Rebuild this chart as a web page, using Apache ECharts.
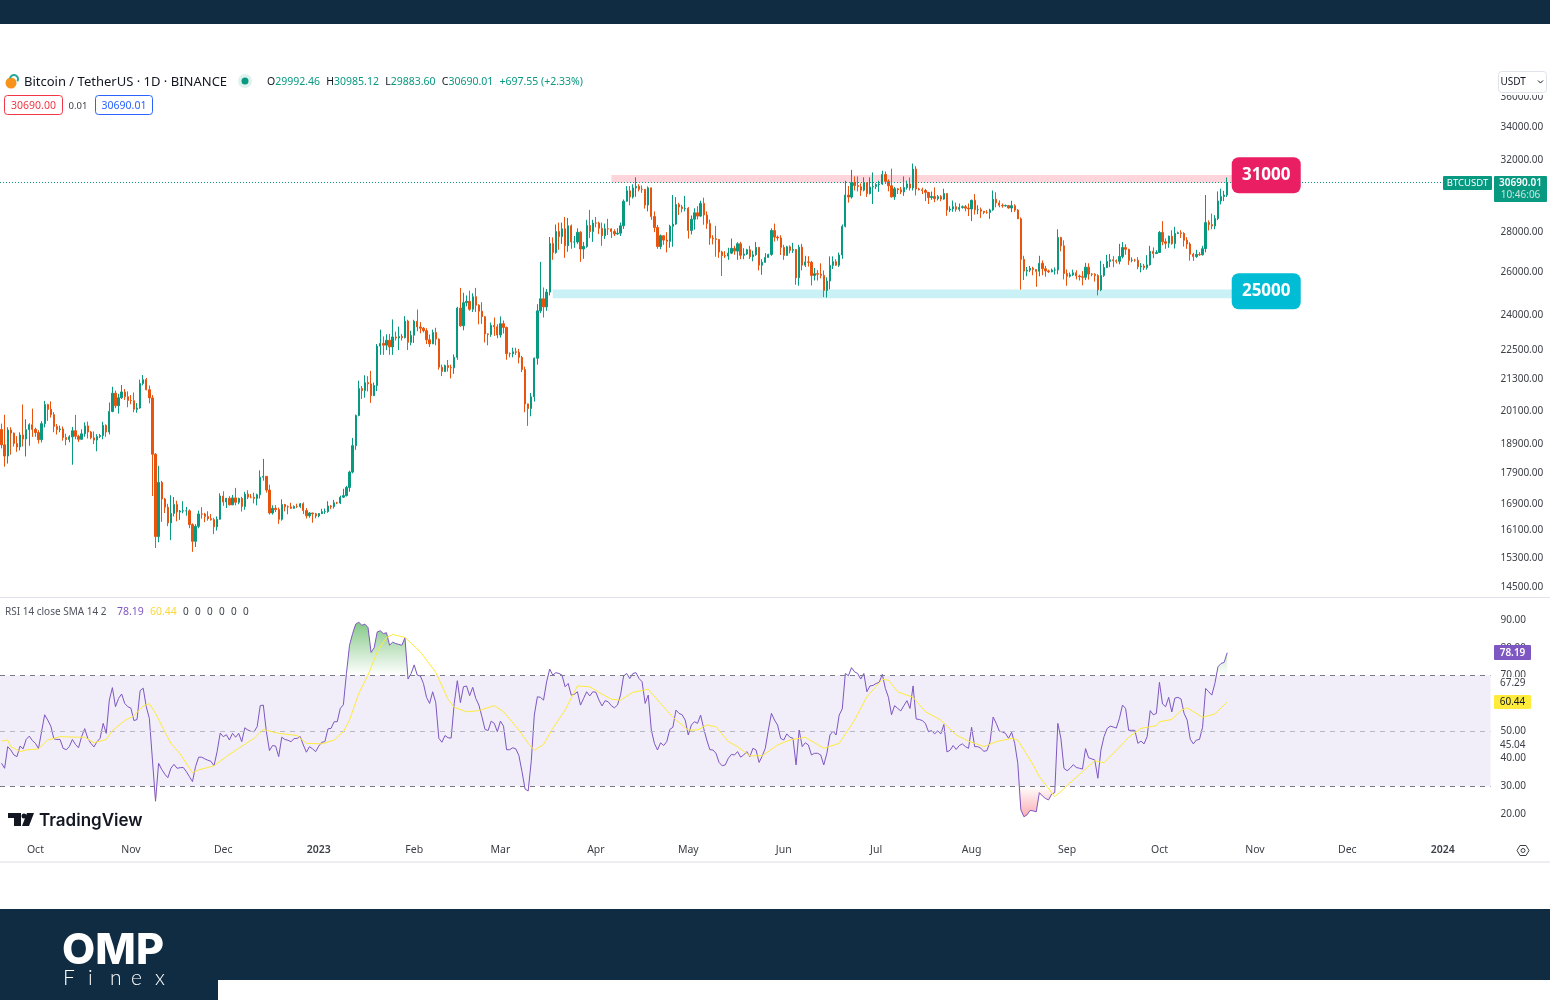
<!DOCTYPE html>
<html>
<head>
<meta charset="utf-8">
<title>BTCUSDT</title>
<style>
html, body { margin: 0; padding: 0; background: #fff; }
#main { width: 1550px; height: 1000px; }
</style>
<script src="https://cdn.jsdelivr.net/npm/echarts@6/dist/echarts.min.js"></script>
</head>
<body>
<div id="main"></div>
<script>
// daily candles, 20 Sep 2022 to 23 Oct 2023
var opens = [
19418,18873,18486,19401,19289,18920,18802,19222,19079,19412,19591,
19422,19310,19056,19630,20337,20158,19960,19530,19417,19439,19131,19060,19155,19375,19176,19068,19262,19549,19327,19123,19041,19164,19204,19570,19330,20080,20771,20295,20595,20818,20635,
20495,20485,20159,20209,21148,21299,20905,20591,18547,15922,17601,17070,16812,16330,16619,16900,16662,16692,16700,16700,16280,15781,16226,16603,16598,16522,16458,16428,16212,16442,
17163,16977,17092,16885,17105,16966,17089,16836,17224,17128,17127,17085,17206,17775,17803,17356,16632,16776,16738,16438,16895,16824,16821,16778,16836,16832,16919,16707,16547,16633,16607,
16542,16616,16672,16675,16850,16831,16950,16943,17127,17178,17440,17943,18846,19930,20954,20871,21185,21133,20677,21071,22667,22783,22707,22917,22633,23056,23009,23074,23022,23743,22826,
23125,23733,23488,23431,23326,22933,22762,23249,22963,21797,21625,21862,21783,21773,22199,24324,23538,24569,24631,24271,24844,24452,24182,23940,23185,23157,23554,23492,
23141,23629,23465,22354,22346,22430,22409,22197,21705,20363,20187,20632,22163,24197,24746,24375,25055,27423,26965,28038,27767,28175,27307,28333,27493,27494,27994,27139,27268,28348,28033,
28478,28474,28199,27812,28175,28170,28033,27906,27947,28333,29653,30235,29884,30395,30485,30318,30315,29445,30397,28823,28245,27263,27817,27591,27525,28307,28422,29473,29340,29248,
29268,28091,28680,29026,28847,29534,28904,28454,27694,27658,27621,26988,26807,26788,26931,27172,27033,27405,26821,26890,27102,26747,26851,27225,26334,26476,26719,26868,28085,27745,27702,
27219,26819,27249,27069,27115,25728,27230,26339,26498,26477,25841,25925,25902,25842,25131,25575,26327,26510,26336,26840,28307,29993,29885,30688,30527,30462,30267,30692,30077,30445,
30472,30585,30617,31156,30767,30514,29895,30348,30292,30171,30414,30620,30391,31476,30334,30297,30249,30145,29856,29913,29792,29908,29771,30083,29176,29228,29354,29213,29314,29352,29275,
29230,29705,29186,29193,29113,29042,29041,29180,29765,29561,29429,29397,29415,29283,29409,29170,28701,26622,26049,26096,26189,26124,26040,26431,26163,26059,26017,26098,26106,27727,27297,
25931,25800,25869,25969,25812,25779,25753,26240,25905,25895,25832,25162,25840,26222,26522,26600,26559,26527,26762,27210,27125,26568,26580,26579,26256,26298,26217,26352,27021,26911,
26962,27983,27505,27429,27794,27410,27931,27970,27935,27584,27391,26875,26759,26862,26852,27154,28500,28395,28320,28713,29669,29910,29992.46
];
var closes = [
18873,18486,19401,19289,18920,18802,19222,19079,19412,19591,19422,
19310,19056,19630,20337,20158,19960,19530,19417,19439,19131,19060,19155,19375,19176,19068,19262,19549,19327,19123,19041,19164,19204,19570,19330,20080,20771,20295,20595,20818,20635,20495,
20485,20159,20209,21148,21299,20905,20591,18547,15922,17601,17070,16812,16330,16619,16900,16662,16692,16700,16700,16280,15781,16226,16603,16598,16522,16458,16428,16212,16442,17163,
16977,17092,16885,17105,16966,17089,16836,17224,17128,17127,17085,17206,17775,17803,17356,16632,16776,16738,16438,16895,16824,16821,16778,16836,16832,16919,16707,16547,16633,16607,16542,
16616,16672,16675,16850,16831,16950,16943,17127,17178,17440,17943,18846,19930,20954,20871,21185,21133,20677,21071,22667,22783,22707,22917,22633,23056,23009,23074,23022,23743,22826,23125,
23733,23488,23431,23326,22933,22762,23249,22963,21797,21625,21862,21783,21773,22199,24324,23538,24569,24631,24271,24844,24452,24182,23940,23185,23157,23554,23492,23141,
23629,23465,22354,22346,22430,22409,22197,21705,20363,20187,20632,22163,24197,24746,24375,25055,27423,26965,28038,27767,28175,27307,28333,27493,27494,27994,27139,27268,28348,28033,28478,
28474,28199,27812,28175,28170,28033,27906,27947,28333,29653,30235,29884,30395,30485,30318,30315,29445,30397,28823,28245,27263,27817,27591,27525,28307,28422,29473,29340,29248,29268,
28091,28680,29026,28847,29534,28904,28454,27694,27658,27621,26988,26807,26788,26931,27172,27033,27405,26821,26890,27102,26747,26851,27225,26334,26476,26719,26868,28085,27745,27702,27219,
26819,27249,27069,27115,25728,27230,26339,26498,26477,25841,25925,25902,25842,25131,25575,26327,26510,26336,26840,28307,29993,29885,30688,30527,30462,30267,30692,30077,30445,30472,
30585,30617,31156,30767,30514,29895,30348,30292,30171,30414,30620,30391,31476,30334,30297,30249,30145,29856,29913,29792,29908,29771,30083,29176,29228,29354,29213,29314,29352,29275,29230,
29705,29186,29193,29113,29042,29041,29180,29765,29561,29429,29397,29415,29283,29409,29170,28701,26622,26049,26096,26189,26124,26040,26431,26163,26059,26017,26098,26106,27727,27297,25931,
25800,25869,25969,25812,25779,25753,26240,25905,25895,25832,25162,25840,26222,26522,26600,26559,26527,26762,27210,27125,26568,26580,26579,26256,26298,26217,26352,27021,26911,26962,
27983,27505,27429,27794,27410,27931,27970,27935,27584,27391,26875,26759,26862,26852,27154,28500,28395,28320,28713,29669,29910,29992.46,30690.01
];
var highs = [
19630,19956,19500,19500,19310,19180,19315,20340,19790,19645,20185,
19484,19395,19719,20475,20365,20456,20055,19616,19558,19525,19268,19214,19513,19951,19227,19424,19676,19706,19360,19347,19250,19257,19700,19601,20415,21020,20872,20750,21085,20931,20840,
20700,20800,20393,21302,21480,21365,21069,20700,18590,18150,17655,17099,16919,17190,17132,17015,16725,16999,16820,16746,16315,16291,16705,16812,16638,16687,16600,16482,16528,17249,
17317,17105,17159,17199,17425,17108,17138,17299,17350,17227,17270,17241,18000,18387,17526,17530,16870,16875,16800,17061,16915,16868,16950,16868,16920,16943,16965,16785,16660,16640,16636,
16630,16760,16772,17000,16880,17041,16980,17176,17398,17490,17990,19117,19964,21258,21050,21473,21438,21650,21186,22755,23371,23078,23165,23180,23816,23282,23500,23183,23960,23800,23320,
23800,24255,23700,23480,23430,23160,23370,23450,22990,21900,21900,22090,21900,22320,24380,25250,25020,24900,25120,25000,25250,24500,24590,23880,23210,23680,23900,23600,
23950,23770,23500,22400,22600,22600,22550,22260,21820,20370,20780,22190,24500,26500,25270,25200,27750,27730,28400,28500,28500,28800,28750,28400,27800,28200,28050,27500,28650,29180,28650,
28800,28550,28500,28450,28700,28200,28150,28200,28500,29750,30500,30500,30600,31000,30600,30530,30300,30480,30400,29100,28380,27880,27820,28000,28390,30000,29880,29570,29450,29950,
29330,28880,29270,29380,29680,29850,29100,28660,27840,28330,27650,27050,27030,27200,27670,27300,27480,27500,27180,27150,27300,27050,27500,27210,26630,26930,26900,28200,28450,27830,27840,
27350,27300,27320,27450,27130,27350,27400,26800,26780,26550,26200,26100,26430,26080,25750,26770,26770,26630,26960,28400,30800,30500,31430,31050,31050,30650,31000,30700,31000,31280,
30660,30800,31380,31330,30880,31500,30450,30390,30450,31050,30810,30990,31800,31650,30400,30410,30340,30050,30190,30420,30000,29990,30350,30100,29380,29690,29580,29530,29420,29450,29530,
29740,30050,29430,29310,29100,29170,29240,30250,30150,29700,29530,29470,29450,29680,29490,29220,28780,26800,26250,26300,26260,26130,26800,26570,26300,26120,26170,26230,28150,27760,27580,
26130,25980,26120,26090,25880,26050,26450,26430,25950,25950,25900,26550,26400,26850,26890,26780,26620,27400,27490,27380,27150,26720,26650,26730,26440,26400,26830,27300,27220,27080,
28060,28580,27680,27820,28100,28280,28030,28100,28000,27740,27480,26950,27100,26980,27300,30000,28620,28980,28900,30200,30350,30230,30985.12
];
var lows = [
18750,18125,18230,18531,18814,18630,18680,18816,18471,18843,19155,
19159,18920,18959,19490,19730,19853,19320,19237,19320,19020,18860,18965,18190,19070,18975,19063,19159,19096,19070,18900,18650,19112,19070,19157,19241,20050,20200,20000,20550,20515,20237,
20348,20050,20031,20180,21080,20886,20384,17166,15588,15754,16361,16631,16229,15815,16527,16378,16420,16625,16549,16170,15476,15616,16168,16460,16353,16398,16400,15995,16100,16430,
16855,16787,16868,16882,16868,16905,16678,16733,17064,17092,16930,16871,17089,17660,17275,16585,16584,16660,16300,16398,16683,16592,16760,16790,16789,16789,16600,16465,16488,16335,16470,
16500,16600,16605,16640,16751,16770,16908,16910,17100,17150,17300,17900,18700,19900,20550,20600,20840,20400,20660,20850,22300,22300,22500,22300,22300,22900,22500,22900,22990,22500,22700,
22800,23300,23210,23250,22750,22630,22750,22700,21700,21440,21600,21620,21350,21530,22100,23490,23340,24400,24200,24150,24150,23600,23620,22820,22700,23060,23100,23000,
23030,23200,22100,22200,22200,22300,21950,21600,20050,19550,19900,20450,21900,24100,23900,24200,24900,26600,26900,27100,27400,26700,27000,27150,27200,27400,26500,26650,27200,27700,27500,
28250,27900,27300,27650,27850,27700,27800,27870,27800,28170,29630,29430,29800,29900,30200,30120,29250,29100,28650,28000,27150,27130,27350,26970,27200,27250,28380,28900,29050,29100,
27670,27880,28130,28670,28810,28390,28170,27350,27370,26755,26700,25810,26690,26600,26880,26850,26600,26630,26630,26840,26640,26530,26800,26080,25870,26530,26780,26800,27520,27560,26840,
26600,26800,26920,26940,25400,25350,26080,26250,26270,25370,25600,25600,25700,24820,24800,25180,26150,26300,26250,26650,28250,29580,29800,30250,30200,29950,30200,29890,30030,29500,
30330,30170,30570,30620,30200,29850,29730,30050,30050,29950,30300,30250,30250,29970,30250,30050,29660,29500,29730,29600,29700,29650,29730,28860,29060,29080,29080,29100,29250,29100,28850,
28580,28930,28950,28750,28950,28970,28700,29130,29320,29320,29300,29360,29250,29060,29070,28700,25170,25620,25800,26000,25850,25300,25800,25850,25780,25960,25990,25880,25900,27020,25650,
25350,25740,25810,25650,25600,25370,25620,25640,25800,25550,24900,25100,25770,26200,26240,26240,26420,26380,26670,26850,26350,26480,26500,26140,25990,26100,26120,26320,26680,26900,
26950,27330,27150,27200,27360,27160,27900,27700,27260,27150,26560,26550,26700,26800,26810,26970,28090,28150,28150,28630,29480,29660,29883.6
];
var rsi = [
38.3,36.5,44.3,43.1,41.3,40.7,44.5,43.5,46.9,48.1,46.5,45.5,43.6,49.7,55.8,53.9,51.7,47.1,46.9,46.9,43.7,43.2,44.3,46.9,45.1,43.9,47.9,50.8,47.3,45.5,44.2,46.1,47.3,52.7,49.1,61.1,65.6,58.7,61.7,63.3,59.9,58.7,58.2,53.7,54.1,64.5,65.4,58.7,54.5,39.5,24.6,
38.3,36.1,34.4,33.1,36.5,37.9,36.5,36.7,36.8,35.3,33.5,31.7,37.1,40.5,40.5,39.9,39.4,39,37.4,42.5,49.2,47.9,48.6,46.7,49.1,47.7,49.1,46.1,51.1,50.3,49.8,49.7,51.5,59.1,59.3,49.7,42.9,44.7,44.5,40.7,47.7,46.9,46.6,46.1,47.2,47.3,47.9,44.9,42.3,
44.3,43.5,42.5,44.5,45.9,46.1,50.7,50.9,53.3,53.3,58.1,59.4,70.7,80.9,85.1,88.5,89.2,88.1,88.5,87.3,78.3,80,85.7,86.1,85.1,85.4,80.9,82,81.5,81.2,80.9,83.6,68.7,70.7,73.8,70.1,
69.8,67.1,62.1,59.9,64.1,60.2,47.3,45.9,48.3,47.5,47.4,59.9,68.1,60.2,65.9,66.2,62.7,65.7,61.7,59.3,55.1,50.5,50.1,53.5,52.7,49.7,53.5,51.7,43.2,43.2,43.9,43.5,41.1,35.3,29,28.3,38.9,55.7,62.3,62.1,61.1,67.7,72.3,70.1,71,70.7,70.1,65.9,67.1,62.9,63.2,64.1,59.3,61.7,64.1,62.6,64.1,63.9,61.1,59,60.9,60.5,59.1,58.3,59.3,62.9,
69.8,70.7,68.9,70.7,71,68.9,67.7,59.9,62.9,50.3,45.5,43.1,45.7,44.7,46.1,50.5,51.3,57.5,56.3,55.8,53.9,48.5,52.1,53.3,52.7,55.7,50.9,46.7,43.2,43.1,41.9,38.6,37.4,37.7,40.1,41.5,41.3,42.5,40.5,41.3,42.5,40.7,43.7,43.1,38.6,40.9,43.7,50.3,56.3,53.9,52.1,47.3,46.7,48.9,47.7,47.3,37.7,50.3,44.3,45.7,44.9,41.3,41.9,41.9,41.3,37.7,41.9,48.5,49.9,48.5,55.7,
57.9,70.7,69.9,72.8,71.3,70.7,68.7,70.7,64.1,66.2,66.4,67.1,67.5,70.4,65.3,62.1,55.8,59.1,58.1,57.2,59.1,60.9,58.1,66.2,54.3,54.1,53.7,52.7,49.7,50.1,48.9,50,48.9,52.3,42.4,43,44.7,43.3,44.7,45.3,44.3,43.7,51.3,44.3,44.3,43.7,42.6,42.9,46.1,55,52.7,49.9,49.6,49.1,47.3,49.5,45.5,38.3,21.5,19,19.7,21.3,21.1,20.8,27.7,26.5,25.6,25.1,27.2,27.7,52.7,47.3,36.5,35.6,36.5,37.8,36.8,36.5,36.2,43.6,40.3,39.9,39.5,32.9,43.1,47.9,50.8,51.7,51.4,51,54.5,59.3,58.1,50.2,50.2,50.2,45.5,46.3,45.3,47.9,57.3,55.8,56.3,67.5,59.7,58.7,62.1,56.8,61.8,62.1,61.5,56.3,53.9,47,45.3,46.7,46.9,51.3,65.3,64.1,62.9,67.1,73.1,74.3,74.7,78.19
];
// yellow average, read where the curve bends: day index and value
var rsiMaDays = [0,2,3,6,8,12,15,19,25,27,30,34,36,40,43,46,48,50,53,55,58,62,64,69,73,77,82,85,90,96,99,104,108,111,113,116,119,122,125,127,131,136,141,145,147,151,155,160,163,168,171,173,176,179,183,187,191,194,198,201,205,210,214,218,223,226,229,232,236,239,243,247,252,256,261,267,272,277,281,286,288,291,296,300,305,310,314,319,323,328,330,335,337,342,344,348,355,358,363,366,370,375,376,380,383,385,390,394,398];
var rsiMaValues = [46.3,46.7,44.3,42.5,43.1,43.5,46.7,47.9,47.7,47.7,45.7,46.9,50.1,53.7,55.5,59,59.8,56.3,49.7,45.5,41.7,34.9,35.9,37.4,40.7,43.7,47.3,50.5,49.1,48.3,45.5,45.3,46.7,49.7,53.9,63.5,70.1,78.5,83.7,84.8,83.7,78.5,71.1,61.4,58.5,56.9,57.3,59.1,56.9,50.3,45.5,43,45.1,50.9,57.5,66.2,65.9,63.9,61.4,61.1,63.9,65,59.9,54.9,50.3,50.3,52.1,51.5,46.1,44.3,41,41,44.9,46.7,47.7,43.7,45.5,53.9,62.3,68.6,68.3,64.1,62.1,56.9,53.9,48.5,46.3,44.3,46.1,47.3,46.7,37.7,33.5,26.3,28.1,32.3,39.2,38.5,44.1,47.7,50.9,51.9,53.3,54.1,57.3,58.3,54.9,56.1,60.44];

var priceTicks = [14500,15300,16100,16900,17900,18900,20100,21300,22500,24000,26000,28000,32000,34000,36000];
var rsiTicks = [20,30,40,50,70,80,90];
var monthTicks = ['2022-10-01','2022-11-01','2022-12-01','2023-01-01','2023-02-01','2023-03-01','2023-04-01','2023-05-01','2023-06-01','2023-07-01','2023-08-01','2023-09-01','2023-10-01','2023-11-01','2023-12-01','2024-01-01'];
var monthNames = ['Oct','Nov','Dec','{b|2023}','Feb','Mar','Apr','May','Jun','Jul','Aug','Sep','Oct','Nov','Dec','{b|2024}'];
var levels = [31000, 25000];

var UP = '#089981', DOWN = '#e8530e', INK = '#131722', AXIS = '#3d4048', NAVY = '#0f2c43';
var SANS = '"Noto Sans", sans-serif';

// the time axis runs on past the last candle, to mid January 2024
var days = [];
for (var d = 0; d < 484; d++) {
    days.push(new Date(Date.UTC(2022, 8, 20 + d)).toISOString().slice(0, 10));
}
var candles = closes.map(function (c, i) { return [opens[i], c, lows[i], highs[i]]; });
// only the stretches past 70 and under 30 get a gradient fill
var overbought = rsi.map(function (v, i) {
    return (v > 70 || rsi[i - 1] > 70 || rsi[i + 1] > 70) ? Math.max(v, 70) : null;
});
var oversold = rsi.map(function (v, i) {
    return (v < 30 || rsi[i - 1] < 30 || rsi[i + 1] < 30) ? Math.min(v, 30) : null;
});

function txt(x, y, text, size, color, align, weight, family) {
    return { type: 'text', z: 100, x: x, y: y + 2, style: {
        text: text, fill: color, fontSize: size, fontFamily: family || SANS, fontWeight: weight || 400,
        align: align || 'left', verticalAlign: 'middle'
    }};
}
function box(x, y, w, h, fill, r, stroke) {
    return { type: 'rect', z: 99, shape: { x: x, y: y, width: w, height: h, r: r || 0 },
        style: { fill: fill, stroke: stroke || null, lineWidth: stroke ? 1 : 0 } };
}

var graphics = [
    box(0, 0, 1550, 24, NAVY),
    box(0, 909, 1550, 91, NAVY),
    box(218, 980, 1332, 20, '#fff'),
    box(0, 597, 1550, 1, '#e0e3eb'),
    box(0, 861, 1550, 2, '#eceef2'),

    // symbol line
    { type: 'circle', z: 100, shape: { cx: 11, cy: 83, r: 5.5 }, style: { fill: '#f7931a' } },
    { type: 'arc', z: 100, shape: { cx: 14, cy: 79, r: 4, startAngle: -3, endAngle: 0.6 }, style: { stroke: '#26a69a', lineWidth: 2, fill: null } },
    txt(24, 80, 'Bitcoin / TetherUS · 1D · BINANCE', 13, INK),
    { type: 'circle', z: 100, shape: { cx: 245, cy: 81, r: 7 }, style: { fill: '#dff2ee' } },
    { type: 'circle', z: 100, shape: { cx: 245, cy: 81, r: 3.5 }, style: { fill: UP } },
    { type: 'text', z: 100, x: 267, y: 82.5, style: {
        text: '{k|O}{v|29992.46}  {k|H}{v|30985.12}  {k|L}{v|29883.60}  {k|C}{v|30690.01}  {v|+697.55 (+2.33%)}',
        verticalAlign: 'middle', fontFamily: SANS,
        rich: { k: { fill: INK, fontSize: 10.5, fontFamily: SANS }, v: { fill: UP, fontSize: 10.5, fontFamily: SANS } }
    }},
    box(4.5, 95.5, 58, 19, '#fff', 3, '#f23645'),
    txt(33.5, 104, '30690.00', 10.5, '#f23645', 'center'),
    txt(78, 104, '0.01', 9.5, AXIS, 'center'),
    box(95.5, 95.5, 57, 19, '#fff', 3, '#2962ff'),
    txt(124, 104, '30690.01', 10.5, '#2962ff', 'center'),

    // currency box sits over the top price label
    box(1497, 92, 50, 3, '#fff'),
    box(1498.5, 71.5, 48, 21, '#fff', 3, '#e0e3eb'),
    txt(1500.5, 80, 'USDT', 10, INK),
    { type: 'polyline', z: 100, shape: { points: [[1538, 80.5], [1540.5, 83], [1543, 80.5]] }, style: { stroke: INK, lineWidth: 1, fill: null } },

    // last price tags
    box(1443, 176, 49, 14, UP, 1),
    txt(1467.5, 181.5, 'BTCUSDT', 9.5, '#fff', 'center'),
    box(1494, 176, 53, 26, UP, 1),
    txt(1520.5, 181, '30690.01', 10, '#fff', 'center', 600),
    txt(1520.5, 193, '10:46:06', 10, '#c8e6df', 'center'),

    // rsi legend and tags
    txt(5, 610, 'RSI 14 close SMA 14 2', 10, '#50535e'),
    txt(117, 610, '78.19', 10.5, '#7e57c2'),
    txt(150, 610, '60.44', 10.5, '#fdd835'),
    txt(183, 610, '0', 10, AXIS), txt(195, 610, '0', 10, AXIS), txt(207, 610, '0', 10, AXIS),
    txt(219, 610, '0', 10, AXIS), txt(231, 610, '0', 10, AXIS), txt(243, 610, '0', 10, AXIS),
    box(1494, 645, 37, 15, '#7e57c2', 1),
    txt(1512.5, 651, '78.19', 10, '#fff', 'center', 600),
    box(1497, 677, 50, 13, '#fff'),
    txt(1500, 681.5, '67.29', 10, AXIS),
    txt(1500, 743, '45.04', 10, AXIS),
    box(1494, 695, 37, 14, '#ffeb3b', 1),
    txt(1512.5, 700.5, '60.44', 10, INK, 'center'),

    // TradingView mark
    { type: 'polygon', z: 100, shape: { points: [[8, 813], [21, 813], [21, 826], [14, 826], [14, 818], [8, 818]] }, style: { fill: INK } },
    { type: 'circle', z: 100, shape: { cx: 24, cy: 816, r: 2.5 }, style: { fill: INK } },
    { type: 'polygon', z: 100, shape: { points: [[27, 813], [34, 813], [29, 826], [22, 826]] }, style: { fill: INK } },
    txt(39, 818.5, 'TradingView', 17, INK, 'left', 600, 'Inter, sans-serif'),

    // settings gear, bottom right
    { type: 'polygon', z: 100, shape: { points: [[1517, 850.5], [1520, 845.5], [1526, 845.5], [1529, 850.5], [1526, 855.5], [1520, 855.5]] }, style: { fill: null, stroke: AXIS, lineWidth: 1 } },
    { type: 'circle', z: 100, shape: { cx: 1523, cy: 850.5, r: 2 }, style: { fill: null, stroke: AXIS, lineWidth: 1 } },

    // broker logo
    txt(113, 949, 'OMP', 43, '#fff', 'center', 800, 'Inter, sans-serif'),
    txt(63, 976, 'F', 21, '#fff', 'left', 300, 'Lato, sans-serif'),
    txt(88, 976, 'i', 21, '#fff', 'left', 300, 'Lato, sans-serif'),
    txt(110, 976, 'n', 21, '#fff', 'left', 300, 'Lato, sans-serif'),
    txt(131, 976, 'e', 21, '#fff', 'left', 300, 'Lato, sans-serif'),
    txt(155, 976, 'x', 21, '#fff', 'left', 300, 'Lato, sans-serif')
];

var myChart = echarts.init(document.getElementById('main'));
var option = {
    animation: false,
    backgroundColor: '#fff',
    graphic: graphics,
    grid: [
        { left: -0.5, top: 62, width: 1491, height: 535 },
        { left: -0.5, top: 598, width: 1491, height: 237 }
    ],
    xAxis: [
        { type: 'category', gridIndex: 0, data: days, boundaryGap: true,
          axisLine: { show: false }, axisTick: { show: false }, axisLabel: { show: false }, splitLine: { show: false } },
        { type: 'category', gridIndex: 1, data: days, boundaryGap: true,
          axisLine: { show: false }, axisTick: { show: false }, splitLine: { show: false },
          axisLabel: {
              color: AXIS, fontSize: 10.5, fontFamily: SANS, margin: 10, hideOverlap: false,
              interval: function (i, value) { return monthTicks.indexOf(value) >= 0; },
              formatter: function (value) { return monthNames[monthTicks.indexOf(value)] || ''; },
              rich: { b: { fontWeight: 600, fontSize: 10.5, color: AXIS, fontFamily: SANS } }
          } }
    ],
    yAxis: [
        { type: 'log', gridIndex: 0, position: 'right', min: 14233, max: 38390, scale: true,
          axisLine: { show: false }, axisTick: { show: false }, splitLine: { show: false },
          axisLabel: { customValues: priceTicks, color: AXIS, fontSize: 10, fontFamily: SANS, margin: 10, padding: [4, 0, 0, 0],
              formatter: function (v) { return Number(v).toFixed(2); } } },
        { type: 'value', gridIndex: 1, position: 'right', min: 12.42, max: 97.94,
          axisLine: { show: false }, axisTick: { show: false }, splitLine: { show: false },
          axisLabel: { customValues: rsiTicks, color: AXIS, fontSize: 10, fontFamily: SANS, margin: 10, padding: [4, 0, 0, 0],
              formatter: function (v) { return Number(v).toFixed(2); } } }
    ],
    series: [
        {
            name: 'BTCUSDT', type: 'candlestick', xAxisIndex: 0, yAxisIndex: 0, data: candles, barWidth: 1.8,
            itemStyle: { color: UP, color0: DOWN, borderColor: UP, borderColor0: DOWN, borderWidth: 1 },
            markArea: { silent: true, data: [
                [{ xAxis: 198, yAxis: 31130, itemStyle: { color: '#fdd5da' } }, { xAxis: 400, yAxis: 30690 }],
                [{ xAxis: 179, yAxis: 25180, itemStyle: { color: '#c9f1f6' } }, { xAxis: 400, yAxis: 24770 }]
            ] },
            markLine: { silent: true, symbol: 'none', label: { show: false },
                lineStyle: { type: [1, 2], color: UP, width: 1 }, data: [{ yAxis: 30690.01 }] }
        },
        {
            // the two round levels, pill labels past the last candle
            name: 'levels', type: 'scatter', xAxisIndex: 0, yAxisIndex: 0, symbolSize: 0, z: 5,
            itemStyle: { opacity: 1 },
            data: levels.map(function (v, i) {
                return { value: [411, v], label: { backgroundColor: i === 0 ? '#e91e63' : '#00bcd4' } };
            }),
            label: { show: true, position: 'inside', offset: [-1, -2], color: '#fff', fontSize: 17, fontWeight: 700, opacity: 1,
                fontFamily: SANS, width: 69, height: 36, lineHeight: 38, align: 'center', verticalAlign: 'middle', borderRadius: 7,
                formatter: function (p) { return String(p.value[1]); } }
        },
        {
            name: 'RSI', type: 'line', xAxisIndex: 1, yAxisIndex: 1, data: rsi, showSymbol: false, z: 4,
            lineStyle: { color: '#7e57c2', width: 1 },
            markArea: { silent: true, itemStyle: { color: '#f1edf9' }, data: [[{ yAxis: 70 }, { yAxis: 30 }]] },
            markLine: { silent: true, symbol: 'none', label: { show: false }, data: [
                { yAxis: 70, lineStyle: { type: [5, 5], color: '#787b86', width: 1 } },
                { yAxis: 50, lineStyle: { type: [5, 5], color: '#b8b8c4', width: 1 } },
                { yAxis: 30, lineStyle: { type: [5, 5], color: '#787b86', width: 1 } }
            ] }
        },
        {
            name: 'overbought', type: 'line', xAxisIndex: 1, yAxisIndex: 1, data: overbought, showSymbol: false, z: 3,
            lineStyle: { width: 0, opacity: 0 },
            areaStyle: { origin: 70, opacity: 1, color: new echarts.graphic.LinearGradient(0, 621, 0, 675, [
                { offset: 0, color: 'rgba(76,175,80,0.7)' }, { offset: 1, color: 'rgba(76,175,80,0)' }], true) }
        },
        {
            name: 'oversold', type: 'line', xAxisIndex: 1, yAxisIndex: 1, data: oversold, showSymbol: false, z: 3,
            lineStyle: { width: 0, opacity: 0 },
            areaStyle: { origin: 30, opacity: 1, color: new echarts.graphic.LinearGradient(0, 786, 0, 816, [
                { offset: 0, color: 'rgba(242,54,69,0)' }, { offset: 1, color: 'rgba(242,54,69,0.4)' }], true) }
        },
        {
            name: 'RSI MA', type: 'line', xAxisIndex: 1, yAxisIndex: 1, showSymbol: false, z: 5,
            data: rsiMaDays.map(function (d, i) { return [d, rsiMaValues[i]]; }),
            lineStyle: { color: '#ffeb3b', width: 1 }
        }
    ]
};
myChart.setOption(option);
</script>
</body>
</html>
